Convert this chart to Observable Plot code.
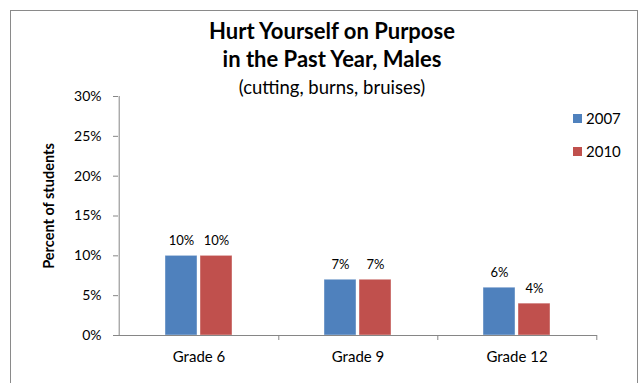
<!DOCTYPE html>
<html>
<head>
<meta charset="utf-8">
<script src="https://cdn.jsdelivr.net/npm/d3@7"></script>
<script src="https://cdn.jsdelivr.net/npm/@observablehq/plot@0.6"></script>
<style>
  body { margin: 0; background: #fff; font-family: Lato, "Open Sans", sans-serif; }
  #wrap { position: relative; width: 642px; height: 383px; overflow: hidden; }
  #frame { position: absolute; left: 10px; top: 10px; width: 626px; height: 400px; border: 1px solid #8a8a8a; }
  .title { position: absolute; left: 0; width: 664px; text-align: center; color: #000; white-space: nowrap; }
  .t1 { top: 17px; font-size: 22px; font-weight: 700; line-height: 28px; }
  .t2 { top: 45px; font-size: 22px; font-weight: 700; line-height: 28px; }
  .t3 { top: 76px; font-size: 18.5px; line-height: 22px; }
  .legend { position: absolute; left: 573px; font-size: 15px; color: #000; line-height: 18px; }
  .legend span.sw { display: inline-block; width: 9px; height: 9px; margin-right: 4px; vertical-align: 1px; }
  #chart { position: absolute; left: 0; top: 0; }
  #chart svg text { fill: #000; }
</style>
</head>
<body>
<div id="wrap">
  <div id="frame"></div>
  <div id="chart"></div>
</div>
<script>
// Share of male students who hurt themselves on purpose in the past year
const grades = ["Grade 6", "Grade 9", "Grade 12"];
const years = ["2007", "2010"];
const values2007 = [10, 7, 6];
const values2010 = [10, 7, 4];
const colors = ["#4F81BD", "#C0504D"];
const yTicks = [0, 5, 10, 15, 20, 25, 30];

const rows = [];
grades.forEach((g, i) => {
  rows.push({grade: g, year: years[0], value: values2007[i]});
  rows.push({grade: g, year: years[1], value: values2010[i]});
});
const first = rows.filter(d => d.year === years[0]);
const second = rows.filter(d => d.year === years[1]);

const gray = "#868686";

const chart = Plot.plot({
  width: 642,
  height: 383,
  marginLeft: 118,
  marginRight: 45,
  marginTop: 96,
  marginBottom: 48,
  style: {fontFamily: "Lato, 'Open Sans', sans-serif", background: "transparent", color: gray},
  x: {domain: grades, padding: 0, axis: null},
  y: {domain: [0, 30], axis: null},
  color: {domain: years, range: colors},
  marks: [
    // bars for each year, side by side inside each grade band
    Plot.barY(first, {x: "grade", y: "value", fill: "year", insetLeft: 46, insetRight: 81, stroke: "#fff", strokeOpacity: 0.5, strokeWidth: 0.8}),
    Plot.barY(second, {x: "grade", y: "value", fill: "year", insetLeft: 81, insetRight: 46, stroke: "#fff", strokeOpacity: 0.5, strokeWidth: 0.8}),
    // value labels
    Plot.text(first, {x: "grade", y: "value", text: d => d.value + "%", dx: -17.5, dy: -15, fontSize: 13}),
    Plot.text(second, {x: "grade", y: "value", text: d => d.value + "%", dx: 17.5, dy: -15, fontSize: 13}),
    // axis lines
    Plot.ruleY([0], {stroke: gray}),
    Plot.ruleX([grades[0]], {dx: -79.8, y1: 0, y2: 30, stroke: gray}),
    // category boundary ticks below the baseline
    Plot.ruleX(grades, {x: d => d, dx: 79.8, y1: 0, y2: 0, insetBottom: -5, stroke: gray}),
    // y axis
    Plot.axisY({ticks: yTicks, tickFormat: d => d + "%", tickSize: 5, tickPadding: 12, fontSize: 14, stroke: gray, label: null}),
    Plot.text(["Percent of students"], {frameAnchor: "left", textAnchor: "middle", dx: -69, dy: -10, rotate: -90, fontSize: 14.5, fontWeight: "bold", text: d => d}),
    // x axis labels
    Plot.axisX({tickSize: 0, tickPadding: 16, fontSize: 15, label: null})
  ]
});
document.getElementById("chart").appendChild(chart);

// heading and legend
const wrap = document.getElementById("wrap");
[["t1", "Hurt Yourself on Purpose"], ["t2", "in the Past Year, Males"], ["t3", "(cutting, burns,  bruises)"]].forEach(([cls, txt]) => {
  const d = document.createElement("div");
  d.className = "title " + cls;
  d.textContent = txt;
  wrap.appendChild(d);
});
years.forEach((y, i) => {
  const d = document.createElement("div");
  d.className = "legend";
  d.style.top = (109 + i * 33) + "px";
  const sw = document.createElement("span");
  sw.className = "sw";
  sw.style.background = colors[i];
  d.appendChild(sw);
  d.appendChild(document.createTextNode(y));
  wrap.appendChild(d);
});
</script>
</body>
</html>
